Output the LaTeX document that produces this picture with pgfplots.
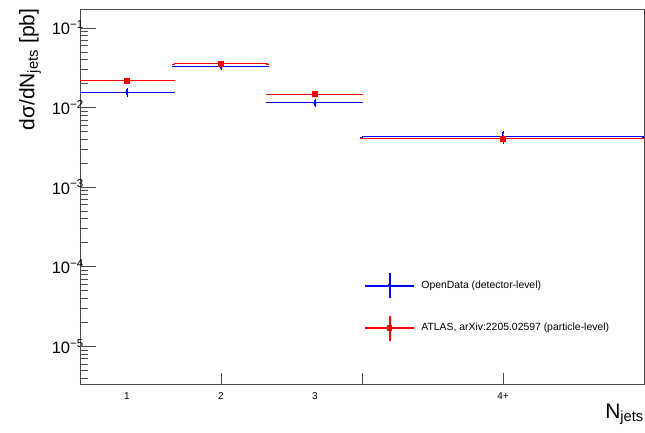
\documentclass[border=0pt]{standalone}
\usepackage{fontspec}
\setmainfont{Liberation Sans}
\usepackage{pgfplots}
\pgfplotsset{compat=1.18}
\usepackage{pgfplotstable}

% OpenData (detector-level)
\pgfplotstableread{
x y ex ey
1 0.0156 0.5 0.0013
2 0.0326 0.5 0.0020
3 0.0115 0.5 0.0009
5 0.00427 1.5 0.0006
}\opendata
% ATLAS, arXiv:2205.02597 (particle-level)
\pgfplotstableread{
x y ex ey
1 0.0218 0.5 0.0006
2 0.0353 0.5 0.0010
3 0.0148 0.5 0.0005
5 0.00409 1.5 0.0003
}\atlas

\begin{document}
\begin{tikzpicture}
\useasboundingbox (-80pt,-48pt) rectangle (565pt,384pt);
\begin{axis}[
    scale only axis,
    width=564pt, height=375pt,
    ymode=log,
    xmin=0.5, xmax=6.5,
    ymin=3.37e-6, ymax=0.173,
    axis line style={black!70, line width=0.8pt},
    every tick/.style={black!70, line width=0.8pt},
    tick align=inside,
    xtick pos=bottom, ytick pos=left,
    major tick length=11pt,
    minor tick length=8pt,
    xtick={2,3.5,5}, xticklabels={},
    extra x ticks={1,2,3,5},
    extra x tick labels={1,2,3,4+},
    extra x tick style={major tick length=0pt},
    xticklabel style={font=\fontsize{10}{10}\selectfont, yshift=-5pt},
    ytick={1e-5,1e-4,1e-3,1e-2,1e-1},
    yticklabels={10\textsuperscript{−5},10\textsuperscript{−4},10\textsuperscript{−3},10\textsuperscript{−2},10\textsuperscript{−1}},
    minor ytick={4e-6,5e-6,6e-6,7e-6,8e-6,9e-6,
                 2e-5,3e-5,4e-5,5e-5,6e-5,7e-5,8e-5,9e-5,
                 2e-4,3e-4,4e-4,5e-4,6e-4,7e-4,8e-4,9e-4,
                 2e-3,3e-3,4e-3,5e-3,6e-3,7e-3,8e-3,9e-3,
                 2e-2,3e-2,4e-2,5e-2,6e-2,7e-2,8e-2,9e-2},
    extra y ticks={1e-5,1e-4,1e-3,1e-2,1e-1},
    extra y tick labels={},
    extra y tick style={major tick length=16pt},
    yticklabel style={font=\fontsize{16.5}{16.5}\selectfont, inner sep=0pt, anchor=east},
    yticklabel shift=-4pt,
    ylabel={dσ/dN\textsubscript{jets} [pb]},
    ylabel style={at={(axis description cs:-0.0887,1.01)}, anchor=east,
                  font=\fontsize{21}{21}\selectfont},
    xlabel={N\textsubscript{jets}},
    xlabel style={at={(axis description cs:1.0,-0.0907)}, anchor=base east, inner sep=0pt,
                  font=\fontsize{21}{21}\selectfont},
    legend style={at={(axis description cs:0.505,0.296)}, anchor=north west,
                  draw=none, fill=none, inner sep=0pt, row sep=18pt,
                  font=\fontsize{10.4}{12}\selectfont,
                  /tikz/every odd column/.append style={column sep=6pt}},
    legend cell align=left,
]
\addplot[blue, only marks, mark=*, mark size=1.6pt, forget plot,
    error bars/.cd, x dir=both, x explicit, y dir=both, y explicit,
    error bar style={line width=1pt},
    error mark options={mark size=1.5pt, line width=0.8pt}]
    table[x=x, y=y, x error=ex, y error=ey] {\opendata};
\addplot[red, only marks, mark=square*, mark size=2.4pt, forget plot,
    error bars/.cd, x dir=both, x explicit, y dir=both, y explicit,
    error bar style={line width=1pt},
    error mark options={mark size=1.5pt, line width=0.8pt}]
    table[x=x, y=y, x error=ex, y error=ey] {\atlas};
\addlegendimage{legend image code/.code={
    \fill[blue] (0pt,-0.45pt) rectangle (48pt,0.45pt);
    \fill[blue] (23.5pt,-12pt) rectangle (24.5pt,12pt);
    \fill[blue] (24pt,0pt) circle (1.6pt);
}}
\addlegendentry{OpenData (detector-level)}
\addlegendimage{legend image code/.code={
    \fill[red] (0pt,-0.45pt) rectangle (48pt,0.45pt);
    \fill[red] (23.5pt,-12pt) rectangle (24.5pt,12pt);
    \fill[red] (21.6pt,-2.4pt) rectangle (26.4pt,2.4pt);
}}
\addlegendentry{ATLAS, arXiv:2205.02597 (particle-level)}
\end{axis}
\end{tikzpicture}
\end{document}
